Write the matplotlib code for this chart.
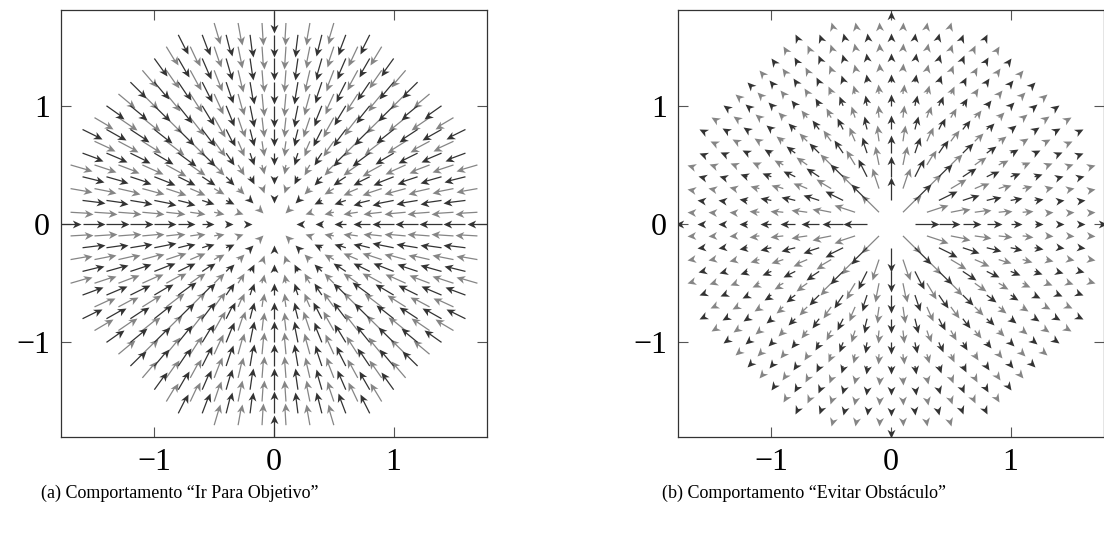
import numpy as np
import matplotlib.pyplot as plt
from matplotlib.collections import LineCollection
from matplotlib.markers import MarkerStyle
from matplotlib.path import Path
from matplotlib.transforms import Affine2D

plt.rcParams['font.family'] = ['Liberation Serif', 'DejaVu Serif']

# grid of sample points (staggered lattice, step 0.1, inside radius 1.8)
step = 0.1
n_max = 18
tick_values = [-1, 0, 1]
tick_labels = ['\u22121', '0', '1']
captions = ['(a) Comportamento \u201cIr Para Objetivo\u201d',
            '(b) Comportamento \u201cEvitar Obst\u00e1culo\u201d']

# field parameters
goal_max_len = 0.185   # arrow length far from goal
goal_slope = 0.2       # length grows with distance near goal
goal_r0 = 0.1
avoid_gain = 0.13      # obstacle: length falls linearly with distance
avoid_range = 1.75

dark = '#333333'
gray = '#858585'

head = Path([(0, 0), (-7, 3.2), (-5, 0), (-7, -3.2), (0, 0)],
            [Path.MOVETO, Path.LINETO, Path.LINETO, Path.LINETO, Path.CLOSEPOLY])


def lattice():
    idx = np.arange(-n_max, n_max + 1)
    I, J = np.meshgrid(idx, idx)
    keep = ((I + J) % 2 == 0) & (I**2 + J**2 <= n_max**2) & ((I != 0) | (J != 0))
    return I[keep] * step, J[keep] * step, J[keep] % 2 == 0


def goal_len(r):
    return np.clip(np.minimum(goal_max_len, goal_slope * (r - goal_r0)), 0.005, None)


def avoid_len(r):
    return np.clip(avoid_gain * (avoid_range - r), 0.005, None)


def draw_field(ax, sign, length_fn):
    x, y, is_dark = lattice()
    r = np.hypot(x, y)
    ux, uy = sign * x / r, sign * y / r
    L = length_fn(r)
    tx, ty = x + ux * L, y + uy * L
    back = 0.04
    for color, mask in ((gray, ~is_dark), (dark, is_dark)):
        segs = []
        for k in np.where(mask)[0]:
            if L[k] > back:
                segs.append([(x[k], y[k]), (tx[k] - ux[k] * back, ty[k] - uy[k] * back)])
        ax.add_collection(LineCollection(segs, colors=color, linewidths=0.9))
        for k in np.where(mask)[0]:
            ang = np.degrees(np.arctan2(uy[k], ux[k]))
            m = MarkerStyle(head, transform=Affine2D().rotate_deg(ang))
            ax.plot(tx[k], ty[k], marker=m, ms=12.5, color=color, mec='none', ls='none')


fig = plt.figure(figsize=(11.04, 5.36), dpi=100)
W, H = 1104, 536
ax1 = fig.add_axes([61 / W, (H - 437) / H, 426 / W, 427 / H])
ax2 = fig.add_axes([678 / W, (H - 437) / H, 426 / W, 427 / H])

draw_field(ax1, -1, goal_len)
draw_field(ax2, 1, avoid_len)

for ax in (ax1, ax2):
    ax.set_xlim(-1.78, 1.78)
    ax.set_ylim(-1.8, 1.81)
    ax.set_xticks(tick_values)
    ax.set_xticklabels(tick_labels)
    ax.set_yticks(tick_values)
    ax.set_yticklabels(tick_labels)
    ax.tick_params(direction='in', length=7, width=0.8, top=True, right=True,
                   labelsize=23, pad=8, color='#555555', labelcolor='black')
    for s in ax.spines.values():
        s.set_linewidth(0.9)
        s.set_color('#333333')

fig.text(180 / W, 1 - 493 / H, captions[0], ha='center', va='center', fontsize=13)
fig.text(804 / W, 1 - 493 / H, captions[1], ha='center', va='center', fontsize=13)

fig.savefig('out.png', dpi=100)
